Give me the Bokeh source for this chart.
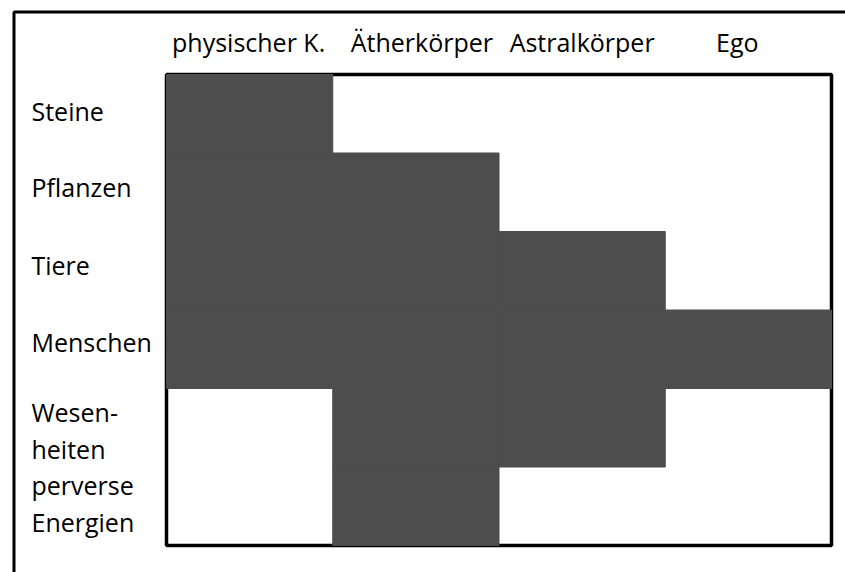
from bokeh.plotting import figure
from bokeh.models import Range1d, ColumnDataSource
from bokeh.core.properties import value
from bokeh.embed import file_html
from bokeh.resources import INLINE

# ---- data ----
columns = ["physischer K.", "Ätherkörper", "Astralkörper", "Ego"]
row_labels = ["Steine", "Pflanzen", "Tiere", "Menschen", "Wesen-\nheiten\nperverse\nEnergien"]
label_rows = [[0], [1], [2], [3], [4, 5]]  # grid rows covered by each label
filled = [
    [1, 0, 0, 0],
    [1, 1, 0, 0],
    [1, 1, 1, 0],
    [1, 1, 1, 1],
    [0, 1, 1, 0],
    [0, 1, 0, 0],
]

# ---- layout (pixels) ----
W, H = 845, 572
PAGE = 0
GRID_L, GRID_R, GRID_T, GRID_B = 166, 831, 74, 545
ncol, nrow = len(columns), len(filled)
ux = (GRID_R - GRID_L) / ncol
uy = (GRID_B - GRID_T) / nrow

x_start = (PAGE - GRID_L) / ux
x_end = (PAGE + W - GRID_L) / ux
y_top = (PAGE - GRID_T) / uy
y_bot = (PAGE + H - GRID_T) / uy

p = figure(width=W, height=H, x_range=Range1d(x_start, x_end),
           y_range=Range1d(y_bot, y_top), x_axis_location=None,
           y_axis_location=None, toolbar_location=None, output_backend="svg",
           min_border=0, outline_line_color=None)
p.grid.visible = False
p.background_fill_color = "white"
p.border_fill_color = "white"

# outer frame (left and top edges visible)
ox = (13.5 - GRID_L) / ux
oy = (11.5 - GRID_T) / uy
p.line(x=[ox, ox, x_end + 1], y=[y_bot + 1, oy, oy], line_color="black", line_width=3)

# inner box
p.quad(left=[0], right=[ncol], top=[0], bottom=[nrow], fill_color=None,
       line_color="black", line_width=3.5)

# cells
xs, ys = [], []
for r, row in enumerate(filled):
    for c, v in enumerate(row):
        if v:
            xs.append(c + 0.5)
            ys.append(r + 0.5)
p.rect(x=xs, y=ys, width=1, height=1, fill_color="#4d4d4d",
       line_color="#4d4d4d", line_width=1)

FONT = value("Open Sans")
# column headers
header_dx = [-1, 6, 0, -11]
hsrc = ColumnDataSource(dict(x=[c + 0.5 for c in range(ncol)],
                             y=[(41 - GRID_T) / uy] * ncol, t=columns, dx=header_dx))
p.text(x="x", y="y", text="t", x_offset="dx", source=hsrc, text_font=FONT,
       text_font_size="25px", text_align="center", text_baseline="middle",
       text_color="black")

# row labels
label_dy = [-2.5, -5, -5.5, -7, 0]
lx = (31 - GRID_L) / ux
lsrc = ColumnDataSource(dict(x=[lx] * len(row_labels),
                             y=[sum(rs) / len(rs) + 0.5 for rs in label_rows],
                             t=row_labels, dy=label_dy))
p.text(x="x", y="y", text="t", y_offset="dy", source=lsrc, text_font=FONT,
       text_font_size="25px", text_align="left", text_baseline="middle",
       text_color="black", text_line_height=1.07)

open("out.html", "w").write(file_html(p, INLINE))
